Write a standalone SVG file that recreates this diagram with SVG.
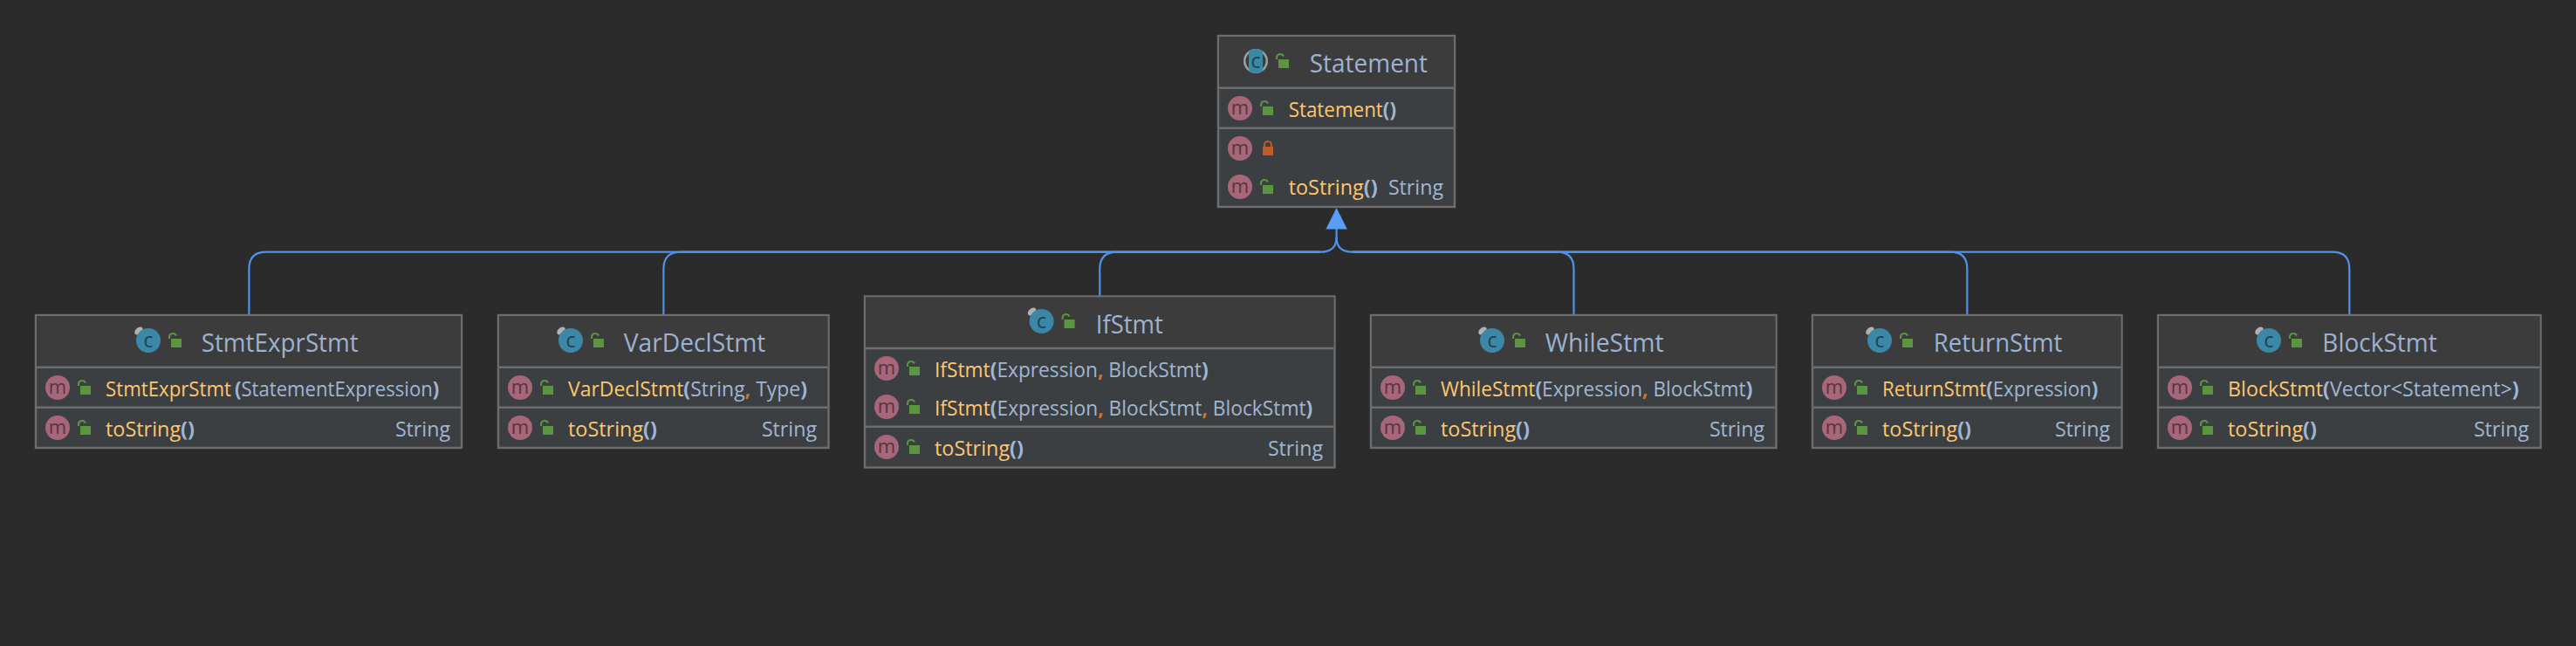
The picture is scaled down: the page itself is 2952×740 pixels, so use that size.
<svg xmlns="http://www.w3.org/2000/svg" xmlns:xlink="http://www.w3.org/1999/xlink" width="2952" height="740" viewBox="0 0 2952 740">
<style>
text{font-family:"Open Sans","Noto Sans","Liberation Sans",sans-serif}
.box{fill:#3c3f41;stroke:#6d6d6d;stroke-width:2.4}
.head{fill:#3c3c3c}
.sep{stroke:#6d6d6d;stroke-width:2.4}
.title{font-size:28.5px;fill:#9cb2d0}
.row{font-size:23.2px;fill:#a0b6d2}
.n{fill:#ffc66d}
.k{fill:#cc7832;font-weight:700}
.b{font-weight:700}
.ret{font-size:23.2px;fill:#a0b6d2;text-anchor:end}
.conn{fill:none;stroke:#4f92ea;stroke-width:2.2}
.mg{font-size:22px;fill:#55363e;text-anchor:middle}
.cg{font-size:23px;fill:#24414f;text-anchor:middle}
</style>
<defs>
<g id="pub"><rect x="26" y="-2" width="12" height="10" fill="#59963f"/><path d="M24 -2V-4.500A4.200 4.200 0 0 1 32 -5.500" fill="none" stroke="#59963f" stroke-width="2"/></g>
<g id="priv"><rect x="26" y="-2" width="12" height="10" fill="#c05b28"/><path d="M28 -2V-4A4 4 0 0 1 36 -4V-2" fill="none" stroke="#c05b28" stroke-width="2"/></g>
<g id="m"><circle r="14" fill="#a8667a"/><text class="mg" y="6.500">m</text></g>
<g id="c"><ellipse cx="-11" cy="-11" rx="5.500" ry="3.500" transform="rotate(-40 -11 -11)" fill="#afb1b3"/><circle r="14" fill="#3a87a6"/><text class="cg" y="7.500">c</text></g>
<clipPath id="band"><rect x="-8" y="-14" width="16" height="28"/></clipPath>
<g id="a"><circle r="14" fill="#9aa1a8"/><circle r="11.500" fill="#3c3c3c"/><circle r="14" fill="#3a87a6" clip-path="url(#band)"/><text class="cg" y="7.500">c</text></g>
</defs>
<rect width="2952" height="740" fill="#2b2b2b"/>

<g id="connectors">
<path class="conn" d="M285.400 360V308Q285.400 288.700 305 288.700H1513Q1531.600 288.700 1531.600 272V262"/>
<path class="conn" d="M760.400 360V308Q760.400 288.700 780 288.700H1513"/>
<path class="conn" d="M1260.300 339V308Q1260.300 288.700 1280 288.700H1513"/>
<path class="conn" d="M1803.500 360V308Q1803.500 288.700 1784 288.700H1550Q1531.600 288.700 1531.600 272"/>
<path class="conn" d="M2254.300 360V308Q2254.300 288.700 2235 288.700H1550"/>
<path class="conn" d="M2692.300 360V308Q2692.300 288.700 2673 288.700H1550"/>
<polygon points="1531.600,238 1543.800,262.500 1519.400,262.500" fill="#589df6"/>
</g>

<g id="Statement">
<rect class="box" x="1396" y="41" width="271" height="196"/>
<rect class="head" x="1397" y="42" width="269" height="59"/>
<line class="sep" x1="1397" y1="100.700" x2="1666" y2="100.700"/><line class="sep" x1="1397" y1="146.700" x2="1666" y2="146.700"/>
<use href="#a" x="1439" y="70"/><use href="#pub" x="1439" y="70"/>
<text class="title" x="1500.700" y="83" textLength="135.300" lengthAdjust="spacingAndGlyphs">Statement</text>
<use href="#m" x="1421" y="124"/><use href="#pub" x="1421" y="124"/>
<text class="row" x="1476.700" y="134" textLength="123.300" lengthAdjust="spacingAndGlyphs"><tspan class="n">Statement</tspan><tspan class="b">()</tspan></text>
<use href="#m" x="1421" y="170"/><use href="#priv" x="1421" y="170"/>
<use href="#m" x="1421" y="214"/><use href="#pub" x="1421" y="214"/>
<text class="row" x="1476.700" y="223" textLength="102" lengthAdjust="spacingAndGlyphs"><tspan class="n">toString</tspan><tspan class="b">()</tspan></text>
<text class="ret" x="1654" y="223">String</text>
</g>

<g id="StmtExprStmt">
<rect class="box" x="41" y="361" width="488" height="152"/>
<rect class="head" x="42" y="362" width="486" height="59"/>
<line class="sep" x1="42" y1="420.700" x2="528" y2="420.700"/><line class="sep" x1="42" y1="466.700" x2="528" y2="466.700"/>
<use href="#c" x="170" y="390"/><use href="#pub" x="170" y="390"/>
<text class="title" x="230.700" y="403" textLength="180" lengthAdjust="spacingAndGlyphs">StmtExprStmt</text>
<use href="#m" x="66" y="444"/><use href="#pub" x="66" y="444"/>
<text class="row" x="121" y="454" textLength="144" lengthAdjust="spacingAndGlyphs"><tspan class="n">StmtExprStmt</tspan></text>
<text class="row" x="269" y="454" textLength="234.300" lengthAdjust="spacingAndGlyphs"><tspan class="b">(</tspan>StatementExpression<tspan class="b">)</tspan></text>
<use href="#m" x="66" y="490"/><use href="#pub" x="66" y="490"/>
<text class="row" x="121" y="500" textLength="102" lengthAdjust="spacingAndGlyphs"><tspan class="n">toString</tspan><tspan class="b">()</tspan></text>
<text class="ret" x="516" y="500">String</text>
</g>

<g id="VarDeclStmt">
<rect class="box" x="571" y="361" width="378.500" height="152"/>
<rect class="head" x="572" y="362" width="376.500" height="59"/>
<line class="sep" x1="572" y1="420.700" x2="948.500" y2="420.700"/><line class="sep" x1="572" y1="466.700" x2="948.500" y2="466.700"/>
<use href="#c" x="654" y="390"/><use href="#pub" x="654" y="390"/>
<text class="title" x="714.700" y="403" textLength="162.700" lengthAdjust="spacingAndGlyphs">VarDeclStmt</text>
<use href="#m" x="596" y="444"/><use href="#pub" x="596" y="444"/>
<text class="row" x="651" y="454" textLength="274" lengthAdjust="spacingAndGlyphs"><tspan class="n">VarDeclStmt</tspan><tspan class="b">(</tspan>String<tspan class="k">,</tspan> Type<tspan class="b">)</tspan></text>
<use href="#m" x="596" y="490"/><use href="#pub" x="596" y="490"/>
<text class="row" x="651" y="500" textLength="102" lengthAdjust="spacingAndGlyphs"><tspan class="n">toString</tspan><tspan class="b">()</tspan></text>
<text class="ret" x="936" y="500">String</text>
</g>

<g id="IfStmt">
<rect class="box" x="991" y="339.500" width="538.500" height="196"/>
<rect class="head" x="992" y="340.500" width="536.500" height="59"/>
<line class="sep" x1="992" y1="399" x2="1528.500" y2="399"/><line class="sep" x1="992" y1="488.700" x2="1528.500" y2="488.700"/>
<use href="#c" x="1193.600" y="368"/><use href="#pub" x="1193.600" y="368"/>
<text class="title" x="1255.700" y="381.700" textLength="77.200" lengthAdjust="spacingAndGlyphs">IfStmt</text>
<use href="#m" x="1016" y="422"/><use href="#pub" x="1016" y="422"/>
<text class="row" x="1071" y="432" textLength="313.600" lengthAdjust="spacingAndGlyphs"><tspan class="n">IfStmt</tspan><tspan class="b">(</tspan>Expression<tspan class="k">,</tspan> BlockStmt<tspan class="b">)</tspan></text>
<use href="#m" x="1016" y="466"/><use href="#pub" x="1016" y="466"/>
<text class="row" x="1071" y="476" textLength="433.300" lengthAdjust="spacingAndGlyphs"><tspan class="n">IfStmt</tspan><tspan class="b">(</tspan>Expression<tspan class="k">,</tspan> BlockStmt<tspan class="k">,</tspan> BlockStmt<tspan class="b">)</tspan></text>
<use href="#m" x="1016" y="512"/><use href="#pub" x="1016" y="512"/>
<text class="row" x="1071" y="522" textLength="102" lengthAdjust="spacingAndGlyphs"><tspan class="n">toString</tspan><tspan class="b">()</tspan></text>
<text class="ret" x="1516" y="522">String</text>
</g>

<g id="WhileStmt">
<rect class="box" x="1571" y="361" width="464.500" height="152"/>
<rect class="head" x="1572" y="362" width="462.500" height="59"/>
<line class="sep" x1="1572" y1="420.700" x2="2034.500" y2="420.700"/><line class="sep" x1="1572" y1="466.700" x2="2034.500" y2="466.700"/>
<use href="#c" x="1710" y="390"/><use href="#pub" x="1710" y="390"/>
<text class="title" x="1770.700" y="403" textLength="136" lengthAdjust="spacingAndGlyphs">WhileStmt</text>
<use href="#m" x="1596" y="444"/><use href="#pub" x="1596" y="444"/>
<text class="row" x="1651" y="454" textLength="357.300" lengthAdjust="spacingAndGlyphs"><tspan class="n">WhileStmt</tspan><tspan class="b">(</tspan>Expression<tspan class="k">,</tspan> BlockStmt<tspan class="b">)</tspan></text>
<use href="#m" x="1596" y="490"/><use href="#pub" x="1596" y="490"/>
<text class="row" x="1651" y="500" textLength="102" lengthAdjust="spacingAndGlyphs"><tspan class="n">toString</tspan><tspan class="b">()</tspan></text>
<text class="ret" x="2022" y="500">String</text>
</g>

<g id="ReturnStmt">
<rect class="box" x="2077" y="361" width="354.500" height="152"/>
<rect class="head" x="2078" y="362" width="352.500" height="59"/>
<line class="sep" x1="2078" y1="420.700" x2="2430.500" y2="420.700"/><line class="sep" x1="2078" y1="466.700" x2="2430.500" y2="466.700"/>
<use href="#c" x="2154" y="390"/><use href="#pub" x="2154" y="390"/>
<text class="title" x="2215.700" y="403" textLength="147.600" lengthAdjust="spacingAndGlyphs">ReturnStmt</text>
<use href="#m" x="2102" y="444"/><use href="#pub" x="2102" y="444"/>
<text class="row" x="2157" y="454" textLength="247.300" lengthAdjust="spacingAndGlyphs"><tspan class="n">ReturnStmt</tspan><tspan class="b">(</tspan>Expression<tspan class="b">)</tspan></text>
<use href="#m" x="2102" y="490"/><use href="#pub" x="2102" y="490"/>
<text class="row" x="2157" y="500" textLength="102" lengthAdjust="spacingAndGlyphs"><tspan class="n">toString</tspan><tspan class="b">()</tspan></text>
<text class="ret" x="2418" y="500">String</text>
</g>

<g id="BlockStmt">
<rect class="box" x="2473" y="361" width="438.500" height="152"/>
<rect class="head" x="2474" y="362" width="436.500" height="59"/>
<line class="sep" x1="2474" y1="420.700" x2="2910.500" y2="420.700"/><line class="sep" x1="2474" y1="466.700" x2="2910.500" y2="466.700"/>
<use href="#c" x="2600" y="390"/><use href="#pub" x="2600" y="390"/>
<text class="title" x="2661.300" y="403" textLength="131.400" lengthAdjust="spacingAndGlyphs">BlockStmt</text>
<use href="#m" x="2498" y="444"/><use href="#pub" x="2498" y="444"/>
<text class="row" x="2553" y="454" textLength="333.700" lengthAdjust="spacingAndGlyphs"><tspan class="n">BlockStmt</tspan><tspan class="b">(</tspan>Vector&lt;Statement&gt;<tspan class="b">)</tspan></text>
<use href="#m" x="2498" y="490"/><use href="#pub" x="2498" y="490"/>
<text class="row" x="2553" y="500" textLength="102" lengthAdjust="spacingAndGlyphs"><tspan class="n">toString</tspan><tspan class="b">()</tspan></text>
<text class="ret" x="2898" y="500">String</text>
</g>
</svg>
